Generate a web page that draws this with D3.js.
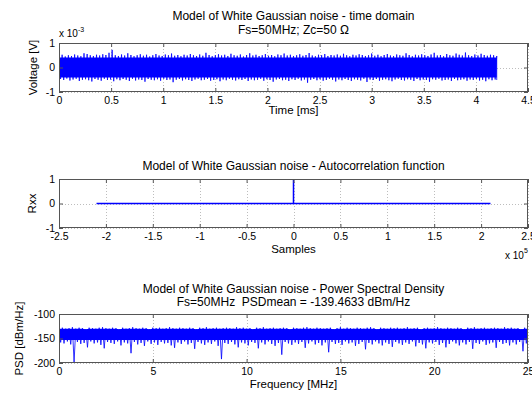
<!DOCTYPE html>
<html><head><meta charset="utf-8">
<script src="https://cdn.jsdelivr.net/npm/d3@7"></script>
<style>
body{margin:0;background:#fff}
svg{display:block}
text{font-family:"Liberation Sans",Arial,Helvetica,sans-serif;fill:#000;white-space:pre}
</style>
</head><body>
<script>
// ---------- DATA ----------
// Panel 1: time domain, envelope of the noise (units of 1e-3 V), samples span 0 .. 4.2 ms
const timeSpanMs = 4.2;
const timeUpper = [
0.48,0.52,0.45,0.50,0.47,0.53,0.49,0.46,0.58,0.55,
0.50,0.47,0.52,0.49,0.54,0.51,0.60,0.72,0.50,0.47,
0.53,0.49,0.58,0.51,0.46,0.50,0.54,0.48,0.52,0.45,
0.50,0.55,0.49,0.47,0.53,0.50,0.57,0.48,0.51,0.46,
0.52,0.49,0.55,0.50,0.47,0.53,0.48,0.60,0.51,0.46,
0.50,0.54,0.49,0.52,0.47,0.56,0.50,0.48,0.53,0.45,
0.51,0.58,0.49,0.52,0.47,0.50,0.55,0.48,0.51,0.46,
0.53,0.50,0.57,0.49,0.52,0.47,0.50,0.54,0.48,0.51,
0.59,0.49,0.46,0.52,0.50,0.55,0.47,0.51,0.49,0.53,
0.48,0.56,0.50,0.46,0.52,0.49,0.54,0.51,0.47,0.50,
0.57,0.48,0.52,0.46,0.51,0.55,0.49,0.47,0.53,0.50,
0.48,0.58,0.51,0.46,0.52,0.49,0.54,0.50,0.47,0.53,
0.60,0.49,0.51,0.46,0.55,0.50,0.48,0.57,0.52,0.49,
0.61,0.50,0.47,0.53,0.49,0.56,0.51,0.48,0.52,0.50,
0.47];
const timeLower = [
-0.47,-0.51,-0.45,-0.53,-0.49,-0.46,-0.55,-0.50,-0.48,-0.52,
-0.57,-0.47,-0.50,-0.54,-0.46,-0.51,-0.49,-0.56,-0.48,-0.52,
-0.47,-0.50,-0.55,-0.46,-0.53,-0.49,-0.51,-0.58,-0.47,-0.50,
-0.52,-0.48,-0.54,-0.46,-0.51,-0.49,-0.60,-0.50,-0.47,-0.53,
-0.48,-0.51,-0.55,-0.49,-0.46,-0.52,-0.50,-0.47,-0.54,-0.51,
-0.48,-0.56,-0.49,-0.52,-0.46,-0.50,-0.53,-0.48,-0.51,-0.47,
-0.55,-0.49,-0.52,-0.50,-0.46,-0.54,-0.48,-0.51,-0.58,-0.49,
-0.47,-0.52,-0.50,-0.55,-0.48,-0.51,-0.46,-0.53,-0.49,-0.62,
-0.50,-0.47,-0.52,-0.48,-0.54,-0.51,-0.46,-0.50,-0.57,-0.49,
-0.52,-0.47,-0.51,-0.55,-0.48,-0.50,-0.53,-0.46,-0.59,-0.49,
-0.51,-0.47,-0.54,-0.50,-0.48,-0.52,-0.56,-0.49,-0.46,-0.51,
-0.53,-0.48,-0.50,-0.55,-0.47,-0.52,-0.49,-0.51,-0.58,-0.48,
-0.50,-0.46,-0.53,-0.51,-0.49,-0.55,-0.47,-0.52,-0.50,-0.48,
-0.54,-0.49,-0.51,-0.47,-0.53,-0.50,-0.56,-0.48,-0.52,-0.49,
-0.51];
const timeTicks = [0,0.5,1,1.5,2,2.5,3,3.5,4,4.5];
const voltTicks = [-1,0,1];

// Panel 2: autocorrelation (lag in samples, normalised Rxx)
const lagSamples = [-210000,-1,0,1,210000];
const rxxValues  = [0,0,1,0,0];
const lagTicks = [-2.5,-2,-1.5,-1,-0.5,0,0.5,1,1.5,2,2.5]; // x 10^5
const rxxTicks = [-1,0,1];

// Panel 3: PSD envelope (dBm/Hz) spanning 0 .. 25 MHz
const freqSpanMHz = 25;
const psdUpper = [
-129,-128,-130,-129,-127,-130,-128,-129,-131,-128,
-129,-130,-128,-127,-129,-130,-128,-129,-131,-128,
-130,-129,-127,-129,-130,-128,-129,-131,-128,-129,
-128,-130,-129,-127,-129,-130,-128,-129,-130,-128,
-129,-131,-128,-129,-127,-130,-129,-128,-130,-129,
-128,-129,-130,-127,-129,-128,-130,-129,-131,-128,
-129,-127,-130,-129,-128,-130,-129,-128,-129,-131,
-128,-129,-130,-128,-127,-129,-130,-128,-129,-130,
-129,-128,-131,-129,-127,-130,-128,-129,-130,-128,
-129,-130,-128,-127,-129,-131,-128,-129,-130,-128,
-129,-128,-130,-129,-127,-130,-129,-128,-131,-129,
-128,-130,-129,-127,-129,-130,-128,-129,-130,-128,
-129,-131,-128,-129,-127,-130,-129,-128,-130,-129,
-128,-129,-130,-127,-129,-128,-130,-129,-131,-128,
-129];
const psdLower = [
-158,-160,-156,-162,-198,-157,-161,-159,-168,-156,
-160,-158,-163,-170,-157,-159,-161,-156,-164,-158,
-160,-180,-157,-162,-159,-165,-156,-161,-158,-163,
-157,-160,-159,-164,-169,-158,-161,-156,-162,-159,
-171,-157,-160,-163,-158,-161,-156,-165,-192,-159,
-161,-157,-162,-168,-158,-160,-164,-157,-159,-170,
-158,-162,-156,-161,-165,-159,-183,-157,-160,-163,
-158,-161,-157,-169,-160,-156,-162,-159,-164,-158,
-178,-157,-161,-159,-163,-156,-160,-158,-165,-161,
-157,-172,-159,-162,-156,-160,-164,-158,-161,-167,
-157,-160,-163,-158,-161,-156,-166,-159,-162,-170,
-158,-160,-157,-163,-159,-168,-161,-156,-160,-164,
-158,-162,-157,-171,-159,-161,-156,-163,-160,-158,
-169,-157,-161,-159,-164,-158,-162,-157,-176,-160,
-158];
const freqTicks = [0,5,10,15,20,25];
const psdTicks = [-200,-150,-100];

// ---------- DRAWING ----------
const W = 532, H = 393;
const svg = d3.select("body").append("svg").attr("width", W).attr("height", H);
const L = 59, R = 528;
const BLUE = "#0000ff", AXC = "#555", GRID = "#bdbdbd";
let clipId = 0;

function panel(o) {
  const x = d3.scaleLinear().domain(o.xDomain).range([L, R]);
  const y = d3.scaleLinear().domain(o.yDomain).range([o.bottom, o.top]);
  const g = svg.append("g");
  g.append("g").selectAll("line").data(o.xTicks).join("line")
    .attr("x1", d => Math.round(x(d)) + 0.5).attr("x2", d => Math.round(x(d)) + 0.5)
    .attr("y1", o.top).attr("y2", o.bottom)
    .attr("stroke", GRID).attr("stroke-dasharray", "1,2");
  g.append("g").selectAll("line").data(o.yTicks).join("line")
    .attr("y1", d => Math.round(y(d)) + 0.5).attr("y2", d => Math.round(y(d)) + 0.5)
    .attr("x1", L).attr("x2", R)
    .attr("stroke", GRID).attr("stroke-dasharray", "1,2");
  const id = "clip" + (clipId++);
  svg.append("clipPath").attr("id", id).append("rect")
    .attr("x", L).attr("y", o.top).attr("width", R - L).attr("height", o.bottom - o.top);
  o.draw(g.append("g").attr("clip-path", `url(#${id})`), x, y);
  const fmt = o.xFmt || (d => String(d));
  const ax = g.append("g").attr("transform", `translate(0,${o.bottom})`)
    .call(d3.axisBottom(x).tickValues(o.xTicks).tickFormat(fmt).tickSizeInner(-4).tickSizeOuter(0).tickPadding(5));
  const axT = g.append("g").attr("transform", `translate(0,${o.top})`)
    .call(d3.axisTop(x).tickValues(o.xTicks).tickFormat("").tickSizeInner(-4).tickSizeOuter(0));
  const ay = g.append("g").attr("transform", `translate(${L},0)`)
    .call(d3.axisLeft(y).tickValues(o.yTicks).tickFormat(d => String(d)).tickSizeInner(-4).tickSizeOuter(0).tickPadding(4));
  const ayR = g.append("g").attr("transform", `translate(${R},0)`)
    .call(d3.axisRight(y).tickValues(o.yTicks).tickFormat("").tickSizeInner(-4).tickSizeOuter(0));
  [ax, axT, ay, ayR].forEach(a => {
    a.select(".domain").remove();
    a.selectAll("line").attr("stroke", AXC);
    a.selectAll("text").attr("font-size", 10.5).attr("font-family", '"Liberation Sans",Arial,sans-serif').attr("fill", "#000");
  });
  g.append("rect").attr("x", L + 0.5).attr("y", o.top + 0.5)
    .attr("width", R - L - 1).attr("height", o.bottom - o.top - 1)
    .attr("fill", "none").attr("stroke", AXC);
  o.title.forEach((t, i) => {
    g.append("text").attr("x", (L + R) / 2).attr("y", o.titleY[i])
      .attr("text-anchor", "middle").attr("font-size", 12).attr("xml:space", "preserve").text(t);
  });
  g.append("text").attr("x", (L + R) / 2).attr("y", o.xLabelY)
    .attr("text-anchor", "middle").attr("font-size", 11.5).text(o.xLabel);
  g.append("text").attr("transform", `translate(${o.yLabelX},${(o.top + o.bottom) / 2}) rotate(-90)`)
    .attr("text-anchor", "middle").attr("font-size", 11.5).text(o.yLabel);
  return g;
}

// dense noise drawn as a filled core plus a zig-zag outline through the envelope values
function noise(sel, x, y, span, hi, lo, coreHi, coreLo) {
  const n = Math.min(hi.length, lo.length);
  const dt = span / (n - 1);
  const idx = d3.range(n);
  sel.append("path")
    .attr("d", d3.area()
      .x(i => x(i * dt))
      .y0(i => y(Math.max(lo[i], coreLo)))
      .y1(i => y(Math.min(hi[i], coreHi)))(idx))
    .attr("fill", BLUE);
  const pts = [];
  idx.forEach(i => {
    pts.push([x(i * dt), y(hi[i])]);
    pts.push([x(Math.min(i * dt + dt / 2, span)), y(lo[i])]);
  });
  sel.append("path").attr("d", d3.line()(pts))
    .attr("fill", "none").attr("stroke", BLUE).attr("stroke-width", 1)
    .attr("stroke-opacity", 0.8);
}

// Panel 1
const p1 = panel({
  top: 43, bottom: 92, xDomain: [0, 4.5], yDomain: [-1, 1],
  xTicks: timeTicks, yTicks: voltTicks,
  title: ["Model of White Gaussian noise - time domain", "Fs=50MHz; Zc=50 \u03A9"], titleY: [20, 34],
  xLabel: "Time [ms]", xLabelY: 114, yLabel: "Voltage [V]", yLabelX: 37,
  draw: (s, x, y) => noise(s, x, y, timeSpanMs, timeUpper, timeLower, 0.41, -0.41)
});
const e1 = p1.append("text").attr("x", 59).attr("y", 37).attr("font-size", 10);
e1.append("tspan").text("x 10");
e1.append("tspan").attr("dy", -5).attr("font-size", 7).text("-3");

// Panel 2
const p2 = panel({
  top: 179, bottom: 228, xDomain: [-2.5e5, 2.5e5], yDomain: [-1, 1],
  xTicks: lagTicks.map(d => d * 1e5), yTicks: rxxTicks, xFmt: d => String(+(d / 1e5).toFixed(1)),
  title: ["Model of White Gaussian noise - Autocorrelation function"], titleY: [170],
  xLabel: "Samples", xLabelY: 253, yLabel: "Rxx", yLabelX: 36,
  draw: (s, x, y) => {
    s.append("path").attr("d", d3.line().x((d, i) => x(lagSamples[i])).y(d => y(d))(rxxValues))
      .attr("fill", "none").attr("stroke", BLUE).attr("stroke-width", 1.5);
  }
});
const e2 = p2.append("text").attr("x", 505).attr("y", 259).attr("font-size", 10);
e2.append("tspan").text("x 10");
e2.append("tspan").attr("dy", -6).attr("font-size", 7).text("5");

// Panel 3
panel({
  top: 314, bottom: 363, xDomain: [0, 25], yDomain: [-200, -100],
  xTicks: freqTicks, yTicks: psdTicks,
  title: ["Model of White Gaussian noise - Power Spectral Density", "Fs=50MHz  PSDmean = -139.4633 dBm/Hz"], titleY: [293, 306],
  xLabel: "Frequency [MHz]", xLabelY: 388, yLabel: "PSD [dBm/Hz]", yLabelX: 23,
  draw: (s, x, y) => noise(s, x, y, freqSpanMHz, psdUpper, psdLower, -130, -153)
});
</script>
</body></html>
